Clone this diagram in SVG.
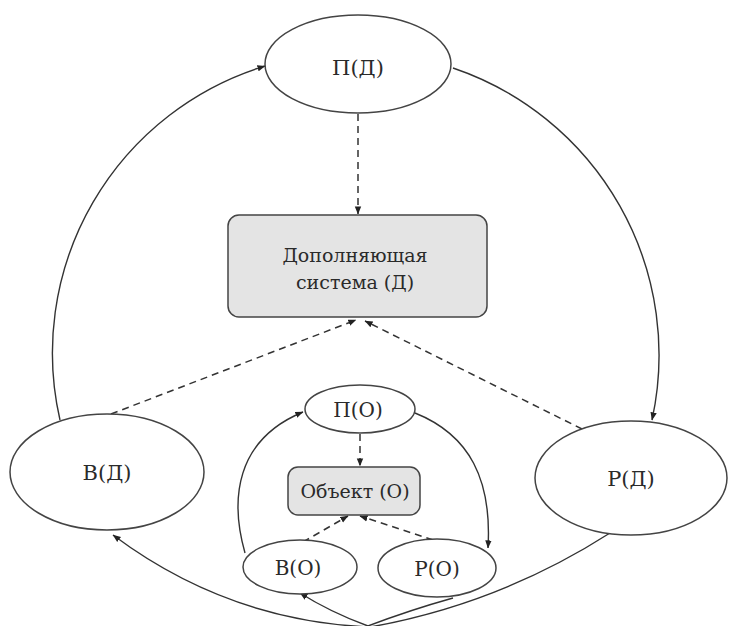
<svg xmlns="http://www.w3.org/2000/svg" width="729" height="626" viewBox="0 0 729 626">
<defs>
<marker id="ah" viewBox="0 0 10 10" refX="9.5" refY="5" markerWidth="8" markerHeight="8" markerUnits="userSpaceOnUse" orient="auto">
<path d="M0,1 L10,5 L0,9 Z" fill="#222"/>
</marker>
<style>
.n{fill:#fff;stroke:#444;stroke-width:1.5}
.b{fill:#e4e4e4;stroke:#444;stroke-width:1.5}
.t{fill:#2a2a2a;text-anchor:middle;font-family:"DejaVu Serif","Liberation Serif",serif}
.c{fill:none;stroke:#333;stroke-width:1.4;marker-end:url(#ah)}
.d{fill:none;stroke:#333;stroke-width:1.5;stroke-dasharray:7,5;marker-end:url(#ah)}
</style>
</defs>
<rect width="729" height="626" fill="#fff"/>
<g id="connectors">
<path class="c" d="M60,420 A300,300 0 0 1 265,66"/>
<path class="c" d="M453,68 A303,303 0 0 1 652,420"/>
<path class="c" d="M610,533 Q499,604 370,627 Q228,621 113,535"/>
<path class="c" d="M453,598 Q410,610 368,626 Q330,612 300,593"/>
<path class="c" d="M245,553 C230,500 235,440 303,412"/>
<path class="c" d="M415,413 C470,435 492,480 488,548"/>
<path class="d" d="M358,114 L358,214"/>
<path class="d" d="M111,414 L356,320"/>
<path class="d" d="M582,429 L365,321"/>
<path class="d" d="M360,434 L360,466"/>
<path class="d" d="M303,542 L348,516"/>
<path class="d" d="M433,540 L360,516"/>
</g>
<g id="pd"><ellipse class="n" cx="358" cy="64" rx="93" ry="49"/><text class="t" x="358" y="75" font-size="21">П(Д)</text></g>
<g id="sys"><rect class="b" x="228" y="215" width="259" height="102" rx="11"/><text class="t" x="355" y="262" font-size="19">Дополняющая</text><text class="t" x="355" y="289" font-size="19">система (Д)</text></g>
<g id="vd"><ellipse class="n" cx="107" cy="472" rx="97" ry="58"/><text class="t" x="107" y="480" font-size="21">В(Д)</text></g>
<g id="rd"><ellipse class="n" cx="631" cy="478" rx="96" ry="57"/><text class="t" x="631" y="486" font-size="21">Р(Д)</text></g>
<g id="po"><ellipse class="n" cx="360" cy="409" rx="55" ry="24"/><text class="t" x="358" y="417" font-size="20">П(О)</text></g>
<g id="obj"><rect class="b" x="288" y="467" width="132" height="48" rx="10"/><text class="t" x="355" y="498" font-size="19">Объект (О)</text></g>
<g id="vo"><ellipse class="n" cx="300" cy="567" rx="57" ry="27"/><text class="t" x="298" y="575" font-size="20">В(О)</text></g>
<g id="ro"><ellipse class="n" cx="437" cy="568" rx="59" ry="29"/><text class="t" x="437" y="576" font-size="20">Р(О)</text></g>
</svg>
